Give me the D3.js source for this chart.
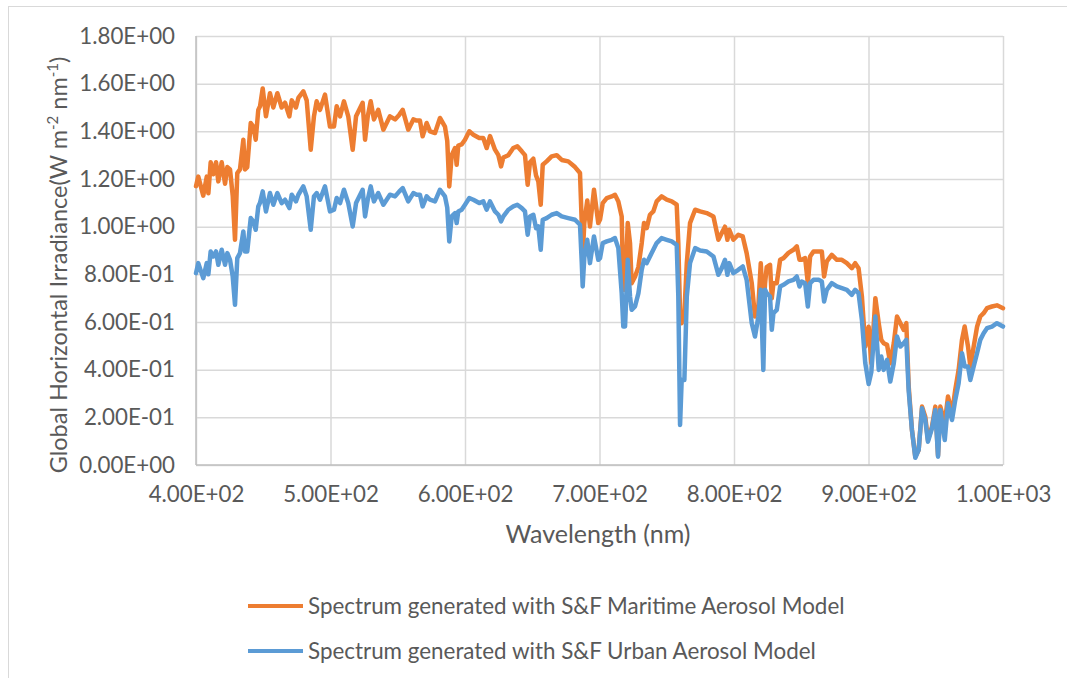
<!DOCTYPE html>
<html>
<head>
<meta charset="utf-8">
<script src="https://cdn.jsdelivr.net/npm/d3@7"></script>
<style>
  body { margin: 0; background: #fff; }
  text { font-family: Lato, Calibri, "Liberation Sans", sans-serif; fill: #595959; }
</style>
</head>
<body>
<script>
// wavelength (nm)
var wavelength = [400,401.7,405.4,408,409.2,410.9,412.9,414.9,416.6,419.1,421.6,423.3,425.3,427.3,429,430.7,432.7,435.2,436.4,438.1,
  440.7,442.6,444.4,446.3,447.6,449.6,452,455,457.5,460.5,463.7,466.2,469.4,471.2,474.3,476.1,479.8,482.3,485.3,487.7,
  489.7,492.2,495.9,499.6,502.6,504.6,507.1,510,513.2,516.5,519,523.9,525.7,527.7,529.9,532.3,535.5,539.3,544.2,548,
  551.2,553.7,557.8,561.6,564.1,566.5,568.5,571.5,574,577.7,581.4,585.1,586.8,588.3,590.1,592.6,593.8,595,597.5,600,
  603.2,606.2,610.6,613.6,616.1,618.6,622.3,624.8,626.8,628.5,632.2,635.9,638.9,642.2,644.6,646.6,648.3,650.8,652.8,654.5,
  656.3,657.8,660.7,664.4,668.2,671.9,676.8,681.8,685.5,686.8,687.5,688.7,690.9,692.9,695.9,699.1,700.4,702.4,705.4,709.1,
  711.5,714,716.5,717.7,719,721,722.7,723.9,726.4,728.9,731.4,733.1,735.1,737.5,740,742.5,746.2,750,753.7,757.4,
  758.6,759.9,761.1,763.1,764.9,767.3,771.1,774.8,779.7,784.7,788.4,790.9,793.3,795.1,796.5,799.5,803.2,806.5,809.4,813.2,
  815.6,818.1,819.9,821.8,823.1,824.3,826.8,828.1,829.3,831.8,834.3,836.8,840.5,844.2,846.7,848.7,850.4,852.9,854.9,856.6,
  859.1,862.9,865.3,867,869,872.7,876.5,880.2,883.9,887.6,890.1,892.6,895.1,897.6,900.1,902.1,905.1,907.6,909.5,911.3,
  913.8,916.2,918.8,921.2,923.7,926.2,928.1,929.9,932.3,934.8,937.3,939.8,942.2,944.2,947.2,949.7,951.7,953.4,956.7,959.1,
  962.1,964.5,967,969.5,971.5,974,975.7,978.2,980.7,983.1,985.6,988.1,991.8,995.5,1000];

// S&F maritime aerosol model (W m-2 nm-1)
var maritime = [1.17,1.21,1.13,1.21,1.14,1.27,1.22,1.27,1.19,1.27,1.18,1.25,1.24,1.13,0.945,1.225,1.24,1.365,1.24,1.25,
  1.435,1.42,1.365,1.49,1.505,1.58,1.463,1.56,1.5,1.56,1.5,1.52,1.463,1.53,1.5,1.54,1.568,1.53,1.323,1.463,
  1.526,1.49,1.554,1.42,1.42,1.505,1.463,1.526,1.463,1.323,1.463,1.52,1.365,1.463,1.526,1.45,1.49,1.407,1.463,1.45,
  1.47,1.49,1.407,1.45,1.445,1.445,1.379,1.435,1.4,1.393,1.456,1.42,1.36,1.169,1.3,1.33,1.26,1.34,1.345,1.365,
  1.4,1.386,1.372,1.372,1.33,1.38,1.323,1.3,1.253,1.29,1.3,1.33,1.337,1.316,1.3,1.176,1.27,1.285,1.215,1.19,
  1.092,1.26,1.274,1.295,1.3,1.28,1.274,1.25,1.225,1.015,0.875,1.015,1.11,1.001,1.155,1.015,1.03,1.099,1.12,1.127,
  1.134,1.106,1.043,0.735,0.735,1.015,0.93,0.763,0.79,0.83,0.931,1.015,0.994,1.05,1.064,1.106,1.127,1.113,1.106,1.092,
  0.93,0.637,0.595,0.637,0.847,1.015,1.071,1.064,1.057,1.043,0.945,0.973,1.0,0.945,0.987,0.945,0.966,0.959,0.889,0.763,
  0.623,0.665,0.847,0.65,0.763,0.83,0.84,0.7,0.763,0.763,0.861,0.868,0.89,0.903,0.917,0.861,0.861,0.868,0.763,0.875,
  0.896,0.896,0.896,0.791,0.854,0.882,0.861,0.861,0.847,0.826,0.847,0.826,0.707,0.497,0.58,0.427,0.7,0.595,0.525,0.511,
  0.504,0.427,0.511,0.623,0.595,0.567,0.595,0.329,0.147,0.035,0.063,0.245,0.203,0.105,0.161,0.245,0.04,0.245,0.175,0.287,
  0.217,0.315,0.399,0.525,0.581,0.497,0.413,0.497,0.58,0.623,0.637,0.658,0.665,0.67,0.658];

// S&F urban aerosol model (W m-2 nm-1)
var urban = [0.805,0.847,0.784,0.847,0.8,0.896,0.875,0.896,0.84,0.903,0.84,0.889,0.861,0.791,0.672,0.868,0.889,0.98,0.896,0.896,
  1.036,1.022,0.987,1.085,1.1,1.148,1.064,1.141,1.092,1.141,1.099,1.113,1.078,1.134,1.106,1.134,1.169,1.127,0.987,1.127,
  1.141,1.113,1.169,1.064,1.071,1.12,1.099,1.155,1.099,1.001,1.099,1.155,1.043,1.113,1.169,1.106,1.141,1.092,1.134,1.127,
  1.148,1.162,1.106,1.141,1.134,1.134,1.085,1.127,1.113,1.106,1.155,1.127,1.08,0.938,1.043,1.057,1.015,1.064,1.071,1.092,
  1.12,1.113,1.099,1.106,1.071,1.106,1.064,1.05,1.022,1.043,1.071,1.085,1.092,1.078,1.064,0.966,1.043,1.05,0.994,1.001,
  0.903,1.029,1.036,1.05,1.057,1.043,1.036,1.029,1.008,0.85,0.749,0.87,0.945,0.847,0.959,0.861,0.868,0.931,0.938,0.945,
  0.952,0.91,0.721,0.581,0.581,0.861,0.707,0.651,0.665,0.72,0.819,0.861,0.847,0.875,0.903,0.931,0.952,0.945,0.938,0.924,
  0.707,0.168,0.357,0.357,0.707,0.847,0.91,0.9,0.896,0.875,0.798,0.826,0.861,0.798,0.847,0.805,0.819,0.833,0.777,0.595,
  0.539,0.623,0.735,0.399,0.735,0.721,0.707,0.567,0.637,0.651,0.749,0.756,0.77,0.777,0.791,0.749,0.77,0.763,0.665,0.763,
  0.777,0.777,0.77,0.686,0.735,0.763,0.749,0.742,0.735,0.714,0.735,0.721,0.609,0.427,0.34,0.39,0.623,0.399,0.455,0.399,
  0.441,0.35,0.427,0.539,0.497,0.511,0.525,0.31,0.147,0.03,0.063,0.238,0.189,0.098,0.154,0.231,0.035,0.231,0.105,0.259,
  0.189,0.273,0.343,0.469,0.413,0.413,0.357,0.413,0.469,0.525,0.553,0.574,0.581,0.595,0.581];

var xTicks = [400, 500, 600, 700, 800, 900, 1000];
var yTicks = [0, 0.2, 0.4, 0.6, 0.8, 1.0, 1.2, 1.4, 1.6, 1.8];
var seriesNames = ["Spectrum generated with S&F Maritime Aerosol Model",
                   "Spectrum generated with S&F Urban Aerosol Model"];
var seriesColors = ["#ED7D31", "#5B9BD5"];

var width = 1067, height = 678;
// plot box (note: "top" is taken by window.top, so use plot* names)
var plotLeft = 196, plotRight = 1003, plotTop = 36, plotBottom = 465;

// excel style 1.80E+00
function sci(v) {
  var parts = v.toExponential(2).split("e");
  var e = +parts[1];
  return parts[0] + "E" + (e < 0 ? "-" : "+") + String(Math.abs(e)).padStart(2, "0");
}

var xScale = d3.scaleLinear().domain([400, 1000]).range([plotLeft, plotRight]);
var yScale = d3.scaleLinear().domain([0, 1.8]).range([plotBottom, plotTop]);

var svg = d3.select("body").append("svg")
  .attr("width", width)
  .attr("height", height);

// chart frame (runs off right / bottom like the screenshot)
svg.append("rect")
  .attr("x", 8.5).attr("y", 6.5)
  .attr("width", width + 10).attr("height", height + 10)
  .attr("fill", "none")
  .attr("stroke", "#d9d9d9");

/* ---------- grid ---------- */
svg.append("g")
  .attr("transform", "translate(" + plotLeft + ",0)")
  .call(d3.axisLeft(yScale).tickValues(yTicks).tickSize(-(plotRight - plotLeft)).tickFormat(""))
  .call(g => g.select(".domain").remove())
  .selectAll("line").attr("stroke", "#d9d9d9").attr("stroke-width", 1.5);

svg.append("g")
  .attr("transform", "translate(0," + plotBottom + ")")
  .call(d3.axisBottom(xScale).tickValues(xTicks).tickSize(-(plotBottom - plotTop)).tickFormat(""))
  .call(g => g.select(".domain").remove())
  .selectAll("line").attr("stroke", "#d9d9d9").attr("stroke-width", 1.5);

// axis lines
svg.append("line")
  .attr("x1", plotLeft).attr("x2", plotRight).attr("y1", plotBottom).attr("y2", plotBottom)
  .attr("stroke", "#bfbfbf").attr("stroke-width", 1.5);
svg.append("line")
  .attr("x1", plotLeft).attr("x2", plotLeft).attr("y1", plotTop).attr("y2", plotBottom)
  .attr("stroke", "#bfbfbf").attr("stroke-width", 1.5);

/* ---------- tick labels ---------- */
var yAxis = svg.append("g")
  .attr("transform", "translate(" + plotLeft + ",0)")
  .call(d3.axisLeft(yScale).tickValues(yTicks).tickSize(0).tickPadding(21).tickFormat(sci));
yAxis.select(".domain").remove();
yAxis.selectAll("text").style("font-size", "22.3px").attr("fill", "#595959")
  .style("font-family", 'Lato, Calibri, "Liberation Sans", sans-serif');

var xAxis = svg.append("g")
  .attr("transform", "translate(0," + plotBottom + ")")
  .call(d3.axisBottom(xScale).tickValues(xTicks).tickSize(0).tickPadding(21).tickFormat(sci));
xAxis.select(".domain").remove();
xAxis.selectAll("text").style("font-size", "22.3px").attr("fill", "#595959")
  .style("font-family", 'Lato, Calibri, "Liberation Sans", sans-serif');

/* ---------- axis titles ---------- */
svg.append("text")
  .attr("x", 598).attr("y", 543)
  .attr("text-anchor", "middle")
  .style("font-size", "25px")
  .text("Wavelength (nm)");

var yt = svg.append("text")
  .attr("transform", "translate(67,265) rotate(-90)")
  .attr("text-anchor", "middle")
  .style("font-size", "23.5px");
yt.append("tspan").text("Global Horizontal Irradiance(W m");
yt.append("tspan").attr("dy", -9).style("font-size", "15px").text("-2");
yt.append("tspan").attr("dy", 9).text(" nm");
yt.append("tspan").attr("dy", -9).style("font-size", "15px").text("-1");
yt.append("tspan").attr("dy", 9).text(")");

/* ---------- lines ---------- */
var line = d3.line()
  .x((d, i) => xScale(wavelength[i]))
  .y(d => yScale(d));

var series = [maritime, urban];
svg.append("g").selectAll("path")
  .data(series).enter()
  .append("path")
  .attr("d", d => line(d))
  .attr("fill", "none")
  .attr("stroke", (d, i) => seriesColors[i])
  .attr("stroke-width", 4.5)
  .attr("stroke-linejoin", "round")
  .attr("stroke-linecap", "round");

/* ---------- legend ---------- */
var legendY = [606, 651];
var legend = svg.append("g").selectAll("g")
  .data(seriesNames).enter()
  .append("g")
  .attr("transform", (d, i) => "translate(248," + legendY[i] + ")");
legend.append("line")
  .attr("x1", 0).attr("x2", 55)
  .attr("stroke", (d, i) => seriesColors[i])
  .attr("stroke-width", 4);
legend.append("text")
  .attr("x", 60).attr("dy", "0.35em")
  .style("font-size", "22.4px")
  .text(d => d);
</script>
</body>
</html>
